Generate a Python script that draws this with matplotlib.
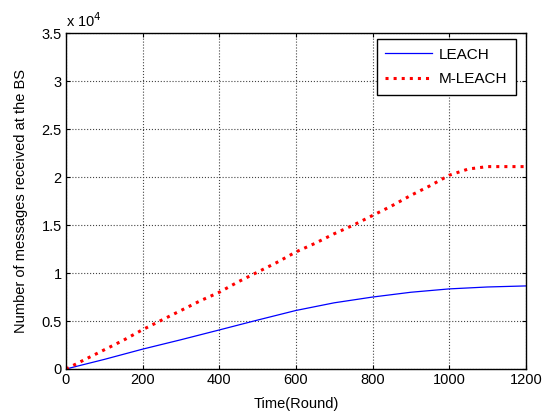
import numpy as np
import matplotlib
matplotlib.use('Agg')
import matplotlib.pyplot as plt

plt.rcParams['font.family'] = ['Liberation Sans', 'DejaVu Sans']

# rounds
rounds_leach = [0, 100, 200, 300, 400, 500, 600, 700, 800, 900, 1000, 1100, 1200]
leach = [0, 1000, 2070, 3050, 4070, 5100, 6100, 6900, 7500, 8000, 8350, 8550, 8660]

rounds_mleach = [0, 50, 100, 150, 200, 250, 300, 350, 400, 450, 500, 550, 600,
                 650, 700, 750, 800, 850, 900, 950, 1000, 1050, 1100, 1150, 1200]
mleach = [0, 1000, 2000, 3000, 4100, 5100, 6100, 7100, 8000, 9100, 10100, 11100, 12200,
          13100, 14100, 15000, 16000, 17000, 18100, 19100, 20200, 20850, 21100, 21100, 21100]

xticks = [0, 200, 400, 600, 800, 1000, 1200]
yticks = [0, 0.5, 1, 1.5, 2, 2.5, 3, 3.5]

fig = plt.figure(figsize=(5.49, 4.16), dpi=100)
ax = fig.add_axes([0.1202, 0.1130, 0.8375, 0.8070])

ax.plot(rounds_leach, np.array(leach) / 1e4, '-', color='blue', lw=0.9, label='LEACH')
ax.plot(rounds_mleach, np.array(mleach) / 1e4, ':', color='red', lw=2.2, label='M-LEACH')

ax.set_xlim(0, 1200)
ax.set_ylim(0, 3.5)
ax.set_xticks(xticks)
ax.set_yticks(yticks)
ax.set_yticklabels(['0', '0.5', '1', '1.5', '2', '2.5', '3', '3.5'])
ax.tick_params(direction='in', top=True, right=True, length=3, labelsize=10.5, pad=3)
ax.grid(True, color='#444444', linestyle=':', linewidth=0.8)
for s in ax.spines.values():
    s.set_linewidth(1.0)
    s.set_color('black')

ax.set_xlabel('Time(Round)', fontsize=10.5, labelpad=7)
ax.set_ylabel('Number of messages received at the BS', fontsize=10.5, labelpad=10)
ax.text(0.0, 1.01, r'x 10$^4$', transform=ax.transAxes, fontsize=10.5,
        ha='left', va='bottom')

leg = ax.legend(loc='upper right', bbox_to_anchor=(0.979, 0.982), borderaxespad=0,
                fontsize=11, fancybox=False, framealpha=1, edgecolor='black',
                handlelength=3.1, labelspacing=0.7, borderpad=0.55, handletextpad=0.45)
leg.get_frame().set_linewidth(1.0)

fig.savefig('out.png', dpi=100)
